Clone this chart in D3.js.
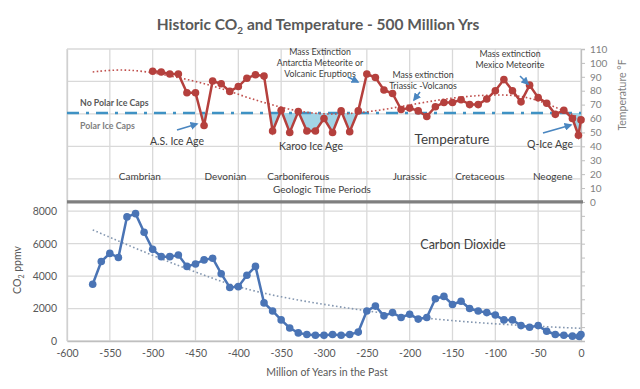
<!DOCTYPE html>
<html><head><meta charset="utf-8">
<script src="https://cdn.jsdelivr.net/npm/d3@7"></script>
<style>
body{margin:0;background:#fff;}
svg{display:block;font-family:Lato,"Open Sans",sans-serif;}
</style></head>
<body><svg id="c" width="640" height="389"></svg>
<script>
// ---- Data ----
const tempYears = [-500,-490,-480,-470,-460,-450,-440,-430,-420,-410,-400,-390,-380,-370,-360,-350,-340,-330,-320,-310,-300,-290,-280,-270,-260,-250,-240,-230,-220,-210,-200,-190,-180,-170,-160,-150,-140,-130,-120,-110,-100,-90,-80,-70,-60,-50,-40,-30,-20,-10,-3,0];
const tempValues = [94,93.5,92,92,78.5,78.5,55,87,85,79.5,83,89,91.5,90.5,51,66,50,65,51,51,60,50,65.5,50.5,65.5,92,89.5,80.5,78,66.5,67.5,65.5,61.5,68.5,71.5,71.5,73.5,70,70,74,80,88,80,72,84,75,71,63,66,60,48,59];
const tempTrendYears = [-570,-530,-480,-430,-390,-340,-300,-250,-190,-140,-90,-60,-25,0];
const tempTrendValues = [93.5,96,91,84,75,66,62.5,64,71,76,77.5,75.5,67,60];
const co2Years = [-570,-560,-550,-540,-530,-520,-510,-500,-490,-480,-470,-460,-450,-440,-430,-420,-410,-400,-390,-380,-370,-360,-350,-340,-330,-320,-310,-300,-290,-280,-270,-260,-250,-240,-230,-220,-210,-200,-190,-180,-170,-160,-150,-140,-130,-120,-110,-100,-90,-80,-70,-60,-50,-40,-30,-20,-10,-2,0];
const co2Values = [3500,4900,5400,5150,7650,7850,6700,5650,5200,5200,5300,4600,4750,5000,5100,4150,3300,3350,4050,4600,2350,1850,1300,800,500,400,350,350,400,350,400,550,1850,2150,1550,1750,1450,1650,1350,1450,2600,2750,2250,2450,2000,1850,1750,1600,1300,1300,950,850,950,600,400,350,300,280,400];
const co2TrendYears = [-570,-500,-440,-400,-350,-300,-250,-200,-150,-100,-50,0];
const co2TrendValues = [6850,5250,4050,3300,2700,2250,1850,1500,1250,1050,900,780];
const iceCapThreshold = 64;
const xTicks = [-600,-550,-500,-450,-400,-350,-300,-250,-200,-150,-100,-50,0];
const co2Ticks = [0,2000,4000,6000,8000];
const co2Grid = [0,2000,4000,6000,8000,10000,12000,14000,16000,18000];
const tempTicks = [0,10,20,30,40,50,60,70,80,90,100,110];
const tempMinor = d3.range(-100,111,10);
const periods = [["Cambrian",-515],["Devonian",-415],["Carboniferous",-330],["Jurassic",-200],["Cretaceous",-118],["Neogene",-33]];

// ---- Layout ----
const L=67,R=581,T=49,B=341;
const svg=d3.select("#c");
const x=d3.scaleLinear().domain([-600,0]).range([L,R]);
const yC=d3.scaleLinear().domain([0,18000]).range([B,T]);
const yT=d3.scaleLinear().domain([-100,110]).range([B,T]);
const grid="#d9d9d9", txt="#595959";
const red="#b5403d", blue="#4a74b5";
const fmt=d=>String(d);

// grid
svg.append("g").selectAll("line").data(co2Grid).join("line")
  .attr("x1",L).attr("x2",R).attr("y1",d=>yC(d)).attr("y2",d=>yC(d))
  .attr("stroke",grid).attr("stroke-width",1.3);
svg.append("g").selectAll("line").data(xTicks).join("line")
  .attr("x1",d=>x(d)).attr("x2",d=>x(d)).attr("y1",T).attr("y2",B)
  .attr("stroke",grid).attr("stroke-width",1.3);

// axes
const gx=svg.append("g").attr("transform",`translate(0,${B})`).call(d3.axisBottom(x).tickValues(xTicks).tickSize(0).tickPadding(9).tickFormat(fmt));
const gl=svg.append("g").attr("transform",`translate(${L},0)`).call(d3.axisLeft(yC).tickValues(co2Ticks).tickSize(0).tickPadding(10).tickFormat(fmt));
const gr=svg.append("g").attr("transform",`translate(${R},0)`).call(d3.axisRight(yT).tickValues(tempMinor).tickSize(4).tickPadding(5).tickFormat(d=>tempTicks.includes(d)?fmt(d):""));
[gx,gl,gr].forEach(g=>{g.selectAll("text").attr("fill",txt).attr("font-size",10.5).attr("font-family","Lato,sans-serif");
  g.select(".domain").attr("stroke","#bfbfbf").attr("stroke-width",1.3);
  g.selectAll(".tick line").attr("stroke","#bfbfbf");});
gr.selectAll("text").attr("fill","#7f7f7f").attr("font-size",10);
gl.select(".domain").attr("stroke","#d0d0d0");

// separator line at temperature 0
svg.append("line").attr("x1",L).attr("x2",R+2).attr("y1",yT(0)).attr("y2",yT(0))
  .attr("stroke","#7f7f7f").attr("stroke-width",3.2);

// ---- Ice fill (temperature below threshold) ----
svg.append("clipPath").attr("id","below").append("rect")
  .attr("x",L).attr("width",R-L).attr("y",yT(iceCapThreshold)).attr("height",B-yT(iceCapThreshold));
const tempData=tempYears.map((d,i)=>({x:d,y:tempValues[i]}));
svg.append("path").datum(tempData).attr("clip-path","url(#below)")
  .attr("d",d3.area().x(d=>x(d.x)).y0(yT(iceCapThreshold)).y1(d=>yT(d.y)))
  .attr("fill","#a2d4e6").attr("stroke","none");

// threshold dash-dot line
svg.append("line").attr("x1",L).attr("x2",R).attr("y1",yT(iceCapThreshold)).attr("y2",yT(iceCapThreshold))
  .attr("stroke","#3f92c4").attr("stroke-width",2.6).attr("stroke-dasharray","12,7,3,7");

// temperature trend
svg.append("path").datum(tempTrendYears.map((d,i)=>({x:d,y:tempTrendValues[i]})))
  .attr("d",d3.line().x(d=>x(d.x)).y(d=>yT(d.y)).curve(d3.curveBasis))
  .attr("fill","none").attr("stroke","#c0504d").attr("stroke-width",1.6).attr("stroke-dasharray","1.6,2.4");

// temperature line
svg.append("path").datum(tempData).attr("d",d3.line().x(d=>x(d.x)).y(d=>yT(d.y)))
  .attr("fill","none").attr("stroke",red).attr("stroke-width",2.5);
svg.append("g").selectAll("circle").data(tempData).join("circle")
  .attr("cx",d=>x(d.x)).attr("cy",d=>yT(d.y)).attr("r",3.8).attr("fill",red);

// CO2 trend
svg.append("path").datum(co2TrendYears.map((d,i)=>({x:d,y:co2TrendValues[i]})))
  .attr("d",d3.line().x(d=>x(d.x)).y(d=>yC(d.y)).curve(d3.curveBasis))
  .attr("fill","none").attr("stroke","#8497b0").attr("stroke-width",1.6).attr("stroke-dasharray","1.6,2.4");

// CO2 line
const co2Data=co2Years.map((d,i)=>({x:d,y:co2Values[i]}));
svg.append("path").datum(co2Data).attr("d",d3.line().x(d=>x(d.x)).y(d=>yC(d.y)))
  .attr("fill","none").attr("stroke",blue).attr("stroke-width",2.5);
svg.append("g").selectAll("circle").data(co2Data).join("circle")
  .attr("cx",d=>x(d.x)).attr("cy",d=>yC(d.y)).attr("r",3.8).attr("fill",blue);

// ---- Text ----
function t(s,px,py,opt={}){
  const e=svg.append("text").attr("x",px).attr("y",py).attr("fill",opt.fill||txt)
   .attr("font-size",opt.size||10).attr("text-anchor",opt.anchor||"middle")
   .attr("font-weight",opt.weight||"normal");
  if(opt.rotate) e.attr("transform",`rotate(${opt.rotate},${px},${py})`);
  return e.text(s);
}
const dark="#404040";
// title with subscript
const title=svg.append("text").attr("x",318).attr("y",30).attr("text-anchor","middle")
  .attr("fill","#595959").attr("font-size",15.5).attr("font-weight","bold");
title.append("tspan").text("Historic CO");
title.append("tspan").text("2").attr("font-size",10).attr("dy",4);
title.append("tspan").text(" and Temperature - 500 Million Yrs").attr("dy",-4);

t("Mass Extinction",320,55,{size:8.8,fill:dark});
t("Antarctia Meteorite or",320,66,{size:8.8,fill:dark});
t("Volcanic Eruptions",320,77,{size:8.8,fill:dark});
t("Mass extinction",423,78,{size:8.8,fill:dark});
t("Triassic -Volcanos",423,89,{size:8.8,fill:dark});
t("Mass extinction",510,57,{size:8.8,fill:dark});
t("Mexico Meteorite",510,68,{size:8.8,fill:dark});
t("No Polar Ice Caps",80,106,{size:8.8,anchor:"start",weight:"bold"});
t("Polar Ice Caps",80,129,{size:8.8,anchor:"start",weight:"bold",fill:"#7f7f7f"});
t("A.S. Ice Age",177,145,{size:10.5,fill:dark});
t("Karoo Ice Age",311,150,{size:10.5,fill:dark});
t("Temperature",452,144,{size:13.5,fill:dark});
t("Q-Ice Age",550,148,{size:10.5,fill:dark});
periods.forEach(p=>t(p[0],x(p[1]),180,{size:10,fill:dark}));
t("Geologic Time Periods",322,193,{size:10,fill:dark});
t("Carbon Dioxide",463,249,{size:12.5,fill:dark});
t("Million of Years in the Past",327,376,{size:10.5});
const yl=svg.append("text").attr("transform","translate(21,270) rotate(-90)").attr("text-anchor","middle")
  .attr("fill",txt).attr("font-size",10.5);
yl.append("tspan").text("CO");
yl.append("tspan").text("2").attr("font-size",7).attr("dy",3);
yl.append("tspan").text(" ppmv").attr("dy",-3);
t("Temperature °F",626,95,{size:10.5,rotate:-90,fill:"#7f7f7f"});

// arrows
const defs=svg.append("defs");
defs.append("marker").attr("id","ah").attr("viewBox","0 0 10 10").attr("refX",8).attr("refY",5)
  .attr("markerWidth",5).attr("markerHeight",5).attr("orient","auto")
  .append("path").attr("d","M0,0L10,5L0,10z").attr("fill","#4a86c0");
[[177,130,197,124],[348,77,358,82],[420,92,414,100],[520,76,528,84],[543,133,571,125]].forEach(a=>{
  svg.append("line").attr("x1",a[0]).attr("y1",a[1]).attr("x2",a[2]).attr("y2",a[3])
   .attr("stroke","#4a86c0").attr("stroke-width",1.6).attr("marker-end","url(#ah)");
});
</script></body></html>
